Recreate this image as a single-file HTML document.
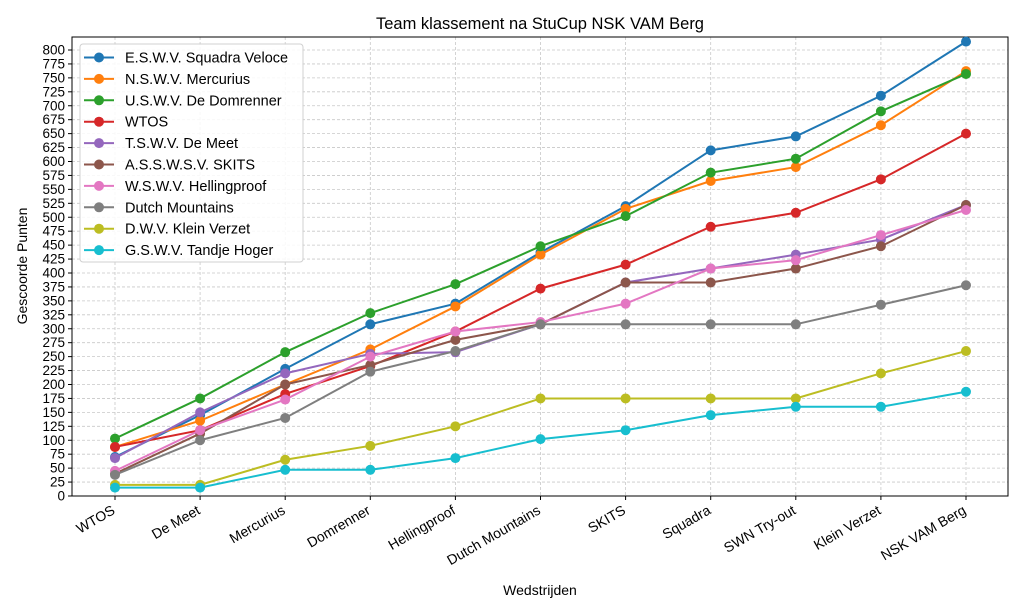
<!DOCTYPE html>
<html><head><meta charset="utf-8"><style>
body{margin:0;background:#fff}
svg{display:block;font-family:"Liberation Sans","DejaVu Sans",sans-serif}
</style></head><body>
<svg id="s" width="1024" height="614" viewBox="0 0 1024 614" xmlns="http://www.w3.org/2000/svg">
<rect width="1024" height="614" fill="#fff"/>
<text x="540" y="29" font-size="16.5" text-anchor="middle" fill="#000">Team klassement na StuCup NSK VAM Berg</text>
<text x="540" y="595" font-size="14" text-anchor="middle">Wedstrijden</text>
<text transform="translate(27,266) rotate(-90)" font-size="14" text-anchor="middle">Gescoorde Punten</text>
<g id="g"></g>
</svg>
<script>
var NS="http://www.w3.org/2000/svg",g=document.getElementById("g");
function el(t,a,txt){var e=document.createElementNS(NS,t);for(var k in a)e.setAttribute(k,a[k]);if(txt!=null)e.textContent=txt;g.appendChild(e);return e;}
var L=72,R=1008,T=37,B=496,k=0.5575;
function X(i){return 115+85.1*i}function Y(v){return B-v*k}
var cats=["WTOS","De Meet","Mercurius","Domrenner","Hellingproof","Dutch Mountains","SKITS","Squadra","SWN Try-out","Klein Verzet","NSK VAM Berg"];
for(var v=0;v<=800;v+=25){var y=Y(v);el("line",{x1:L,x2:R,y1:y,y2:y,stroke:"#c8c8c8","stroke-width":0.8,"stroke-dasharray":"3,2"});el("line",{x1:L-4,x2:L,y1:y,y2:y,stroke:"#000"});el("text",{x:L-7,y:y+4.5,"font-size":"13.5","text-anchor":"end"},String(v));}
cats.forEach(function(c,i){var x=X(i);el("line",{x1:x,x2:x,y1:T,y2:B,stroke:"#c8c8c8","stroke-width":0.8,"stroke-dasharray":"3,2"});el("line",{x1:x,x2:x,y1:B,y2:B+4,stroke:"#000"});el("text",{transform:"translate("+(x+1)+","+(B+17)+") rotate(-30)","font-size":"14","text-anchor":"end"},c);});
el("rect",{x:L,y:T,width:R-L,height:B-T,fill:"none",stroke:"#000","stroke-width":1});
var S=[
["E.S.W.V. Squadra Veloce","#1f77b4",[70,145,228,308,345,437,520,620,645,718,815]],
["N.S.W.V. Mercurius","#ff7f0e",[88,135,200,263,340,433,515,565,590,665,762]],
["U.S.W.V. De Domrenner","#2ca02c",[103,175,258,328,380,448,502,580,605,690,757]],
["WTOS","#d62728",[88,118,183,233,295,372,415,483,508,568,650]],
["T.S.W.V. De Meet","#9467bd",[68,150,220,255,258,308,383,408,433,460,522]],
["A.S.S.W.S.V. SKITS","#8c564b",[40,112,200,235,280,308,383,383,408,448,522]],
["W.S.W.V. Hellingproof","#e377c2",[45,118,173,250,295,312,345,408,423,468,513]],
["Dutch Mountains","#7f7f7f",[38,100,140,223,260,308,308,308,308,343,378]],
["D.W.V. Klein Verzet","#bcbd22",[20,20,65,90,125,175,175,175,175,220,260]],
["G.S.W.V. Tandje Hoger","#17becf",[15,15,47,47,68,102,118,145,160,160,187]]];
S.forEach(function(s){var p=s[2].map(function(v,i){return X(i)+","+Y(v)}).join(" ");el("polyline",{points:p,fill:"none",stroke:s[1],"stroke-width":2});s[2].forEach(function(v,i){el("circle",{cx:X(i),cy:Y(v),r:5,fill:s[1]});});});
el("rect",{x:80,y:44,width:223,height:218,rx:3,fill:"#fff","fill-opacity":0.85,stroke:"#d0d0d0"});
S.forEach(function(s,i){var y=57.5+21.4*i;el("line",{x1:84,x2:114,y1:y,y2:y,stroke:s[1],"stroke-width":2});el("circle",{cx:99,cy:y,r:5,fill:s[1]});el("text",{x:125,y:y+5,"font-size":"14.5"},s[0]);});
</script>
</body></html>
